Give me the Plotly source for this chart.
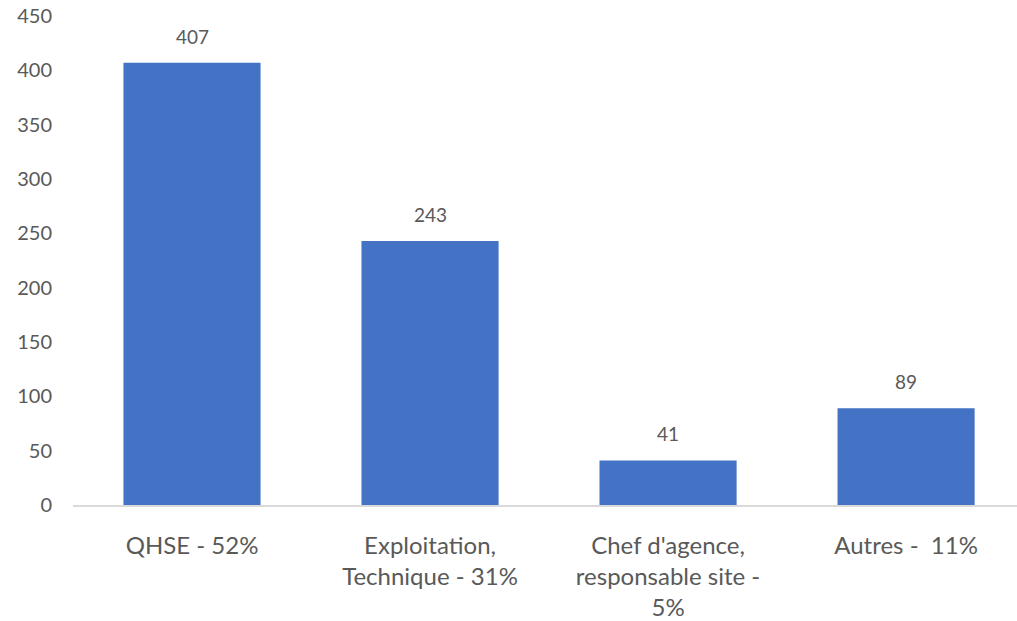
import plotly.graph_objects as go

categories = ["QHSE - 52%", "Exploitation,<br>Technique - 31%",
              "Chef d'agence,<br>responsable site -<br>5%", "Autres -  11%"]
values = [407, 243, 41, 89]
y_ticks = [0, 50, 100, 150, 200, 250, 300, 350, 400, 450]

FONT = "Lato, Calibri, sans-serif"
GREY = "#595959"

fig = go.Figure(go.Bar(
    x=list(range(len(categories))), y=values,
    marker=dict(color="#4472C4", line=dict(width=0)),
    hoverinfo="skip",
))

for i, v in enumerate(values):
    fig.add_annotation(x=i, y=v, text=str(v), showarrow=False,
                       yanchor="bottom", yshift=13,
                       font=dict(family=FONT, size=19, color=GREY))

fig.update_layout(
    width=1017, height=621,
    margin=dict(l=73, r=0, t=16, b=116, autoexpand=False),
    paper_bgcolor="white", plot_bgcolor="white",
    bargap=0.424, showlegend=False,
    font=dict(family=FONT, color=GREY),
)
fig.update_xaxes(
    tickmode="array", tickvals=list(range(len(categories))), ticktext=categories,
    range=[-0.5, 3.466], showgrid=False, zeroline=False,
    showline=True, linecolor="#D9D9D9", linewidth=2,
    ticks="", tickfont=dict(family=FONT, size=24, color=GREY),
    ticklabelstandoff=18, automargin=False, ticklabeloverflow="allow",
)
fig.update_yaxes(
    range=[0, 450], tickvals=y_ticks, showgrid=False, zeroline=False,
    showline=False, ticks="", tickfont=dict(family=FONT, size=20, color=GREY),
    ticklabelstandoff=20, automargin=False, ticklabeloverflow="allow",
)

fig.write_html(
    "out.html",
    config={"displayModeBar": False},
    post_script="document.body.style.margin='0';document.body.style.overflow='hidden';",
)
